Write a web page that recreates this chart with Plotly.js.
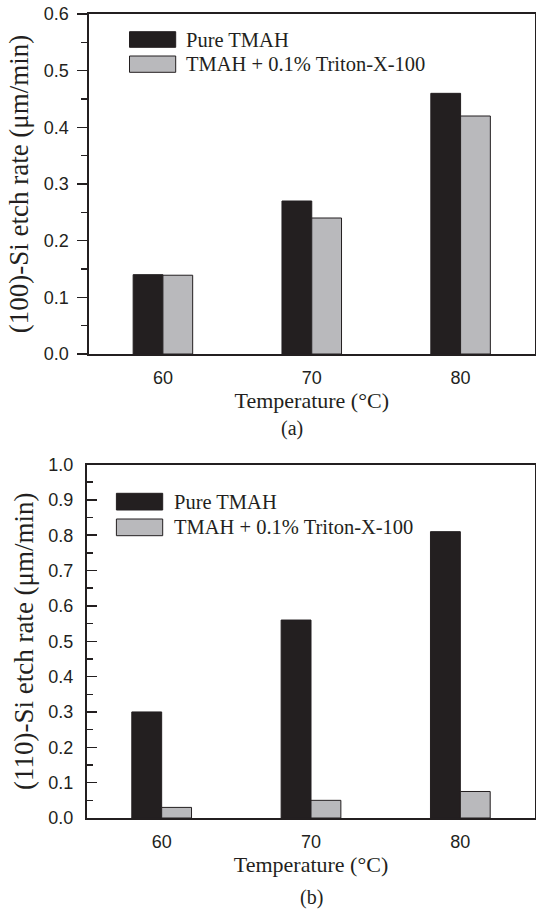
<!DOCTYPE html>
<html>
<head>
<meta charset="utf-8">
<script src="https://cdn.plot.ly/plotly-3.0.1.min.js"></script>
<style>
html,body{margin:0;padding:0;background:#fff;}
#chart{width:536px;height:909px;}
</style>
</head>
<body>
<div id="chart"></div>
<script>
// ---- data ----
const temperatures = [60, 70, 80];
const tickLabels = ['60', '70', '80'];
const seriesNames = ['Pure TMAH', 'TMAH + 0.1% Triton-X-100'];
const rate100Pure = [0.14, 0.27, 0.46];
const rate100Triton = [0.139, 0.24, 0.42];
const rate110Pure = [0.30, 0.56, 0.81];
const rate110Triton = [0.03, 0.05, 0.075];
const panelLabels = ['(a)', '(b)'];
const yTitles = ['(100)-Si etch rate (\u03bcm/min)', '(110)-Si etch rate (\u03bcm/min)'];
const xTitle = 'Temperature (\u00b0C)';

// ---- style ----
const W = 536, H = 909;
const M = {l: 87, r: 1, t: 14, b: 91};
const PW = W - M.l - M.r, PH = H - M.t - M.b;
const px = x => (x - M.l) / PW;
const py = y => (H - M.b - y) / PH;
const BLACK = '#231f20', GRAY = '#b9b9bc';
const SERIF = 'Liberation Serif, Times New Roman, serif';
const SANS = 'Liberation Sans, Arial, sans-serif';

function bar(y, name, color, xa, ya) {
  return {type: 'bar', x: temperatures, y: y, name: name, xaxis: xa, yaxis: ya,
    marker: {color: color, line: {color: BLACK, width: 1}}, showlegend: false, hoverinfo: 'x+y+name'};
}
const data = [
  bar(rate100Pure, seriesNames[0], BLACK, 'x', 'y'),
  bar(rate100Triton, seriesNames[1], GRAY, 'x', 'y'),
  bar(rate110Pure, seriesNames[0], BLACK, 'x2', 'y2'),
  bar(rate110Triton, seriesNames[1], GRAY, 'x2', 'y2')
];

function xaxis(domain, anchor) {
  return {domain: domain, anchor: anchor, range: [55, 85], tickvals: temperatures, ticktext: tickLabels,
    ticks: '', showline: true, mirror: true, linecolor: BLACK, linewidth: 2, showgrid: false, zeroline: false,
    tickfont: {family: SANS, size: 18, color: BLACK}, ticklabelstandoff: 6,
    title: {text: xTitle, font: {family: SERIF, size: 22, color: BLACK}, standoff: 3}};
}
function yaxis(domain, anchor, range, tickdir, title, standoffLab) {
  return {domain: domain, anchor: anchor, range: range, dtick: 0.1, tick0: 0, tickformat: '.1f',
    ticks: tickdir, ticklen: 10, tickwidth: 1.5, tickcolor: BLACK,
    minor: {dtick: 0.05, tick0: 0, ticks: tickdir, ticklen: 6, tickwidth: 1.5, tickcolor: BLACK},
    showline: true, mirror: true, linecolor: BLACK, linewidth: 2, showgrid: false, zeroline: false,
    tickfont: {family: SANS, size: 18, color: BLACK}, ticklabelstandoff: standoffLab,
    title: {text: title, font: {family: SERIF, size: 27, color: BLACK}, standoff: 7}};
}

const topDomY = [py(354), py(14)];
const botDomY = [py(818), py(464.5)];

function legendShapes(x0, x1, yb0, yb1, yg0, yg1) {
  return [
    {type: 'rect', xref: 'paper', yref: 'paper', x0: px(x0), x1: px(x1), y0: py(yb1), y1: py(yb0),
      fillcolor: BLACK, line: {color: BLACK, width: 1}},
    {type: 'rect', xref: 'paper', yref: 'paper', x0: px(x0), x1: px(x1), y0: py(yg1), y1: py(yg0),
      fillcolor: GRAY, line: {color: BLACK, width: 1}}
  ];
}
function legendText(x, y1, y2) {
  return [
    {xref: 'paper', yref: 'paper', x: px(x), y: py(y1), xanchor: 'left', yanchor: 'middle', showarrow: false,
      text: seriesNames[0], font: {family: SERIF, size: 20.5, color: BLACK}},
    {xref: 'paper', yref: 'paper', x: px(x), y: py(y2), xanchor: 'left', yanchor: 'middle', showarrow: false,
      text: seriesNames[1], font: {family: SERIF, size: 20.5, color: BLACK}}
  ];
}

const layout = {
  width: W, height: H, margin: M, autosize: false,
  paper_bgcolor: '#fff', plot_bgcolor: '#fff',
  barmode: 'group', bargap: 0.6, bargroupgap: 0,
  showlegend: false,
  xaxis: xaxis([px(88.5), 1], 'y'),
  yaxis: yaxis(topDomY, 'x', [0, 0.6], 'outside', yTitles[0], 4),
  xaxis2: xaxis([0, 1], 'y2'),
  yaxis2: yaxis(botDomY, 'x2', [0, 1.0], 'inside', yTitles[1], 8),
  shapes: [].concat(
    legendShapes(129.5, 175.7, 31.7, 47.3, 56, 72.3),
    legendShapes(116.4, 162.7, 493.3, 510, 519, 535.7)
  ),
  annotations: [].concat(
    legendText(184, 39.5, 64),
    legendText(172, 501.7, 527),
    [
      {xref: 'paper', yref: 'paper', x: px(292), y: py(428), xanchor: 'center', yanchor: 'middle', showarrow: false,
        text: panelLabels[0], font: {family: SERIF, size: 20, color: BLACK}},
      {xref: 'paper', yref: 'paper', x: px(311), y: py(897), xanchor: 'center', yanchor: 'middle', showarrow: false,
        text: panelLabels[1], font: {family: SERIF, size: 20, color: BLACK}}
    ]
  )
};

Plotly.newPlot('chart', data, layout, {displayModeBar: false, staticPlot: true});
</script>
</body>
</html>
